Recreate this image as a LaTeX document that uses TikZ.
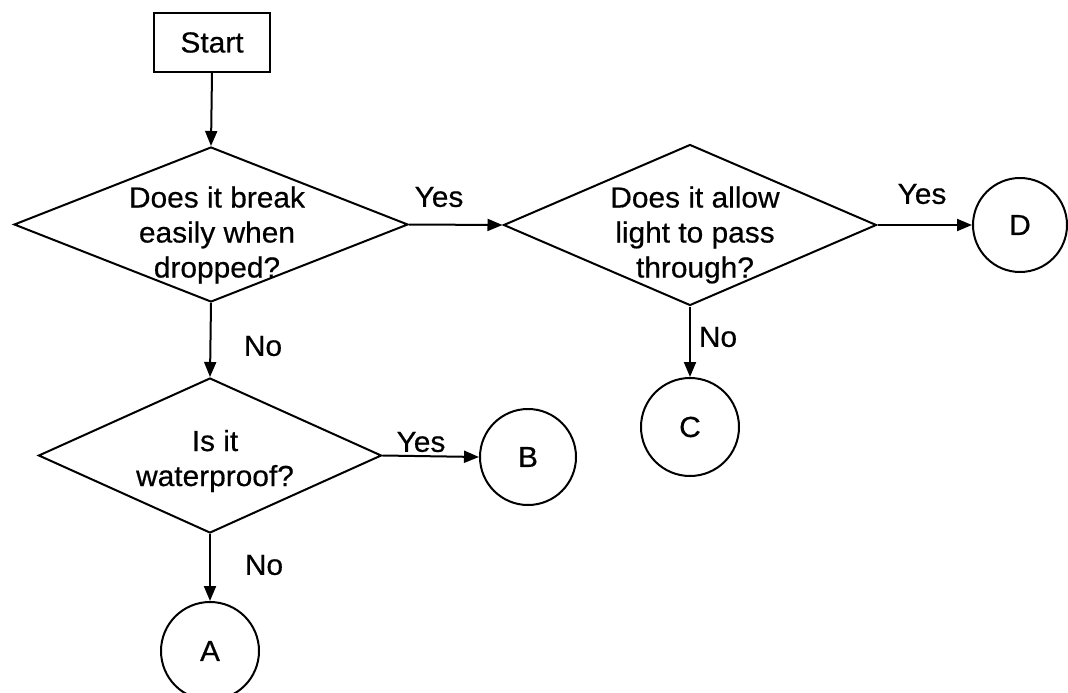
\documentclass[tikz,border=0pt]{standalone}
\usepackage{fontspec}
\setmainfont{Liberation Sans}[FakeStretch=1.03,FakeBold=0.5]
\usetikzlibrary{shapes.geometric,arrows.meta}
\begin{document}
\begin{tikzpicture}[x=1pt,y=-1pt,
  every node/.style={font=\fontsize{29}{35}\selectfont},
  stepbox/.style={draw,line width=1.8pt,minimum width=116pt,minimum height=59pt,inner sep=0pt},
  decision/.style={draw,shape=diamond,line width=2pt,inner sep=0pt},
  endpt/.style={draw,shape=circle,line width=2pt,inner sep=0pt},
  qtext/.style={align=center,inner sep=0pt},
  lbl/.style={inner sep=0pt},
  conn/.style={line width=2pt,-{Triangle[length=15pt,width=12pt]}}]
\clip (0,0) rectangle (1068,693);
\fill[white] (0,0) rectangle (1068,693);
% nodes
\node[stepbox] (start) at (212,42.5) {Start};
\node[decision,minimum width=394pt,minimum height=155pt] (d1) at (211,224.5) {};
\node[qtext] (t1) at (217,235) {Does it break\\easily when\\dropped?};
\node[decision,minimum width=373pt,minimum height=161pt] (d2) at (690,225) {};
\node[qtext] (t2) at (695,235) {Does it allow\\light to pass\\through?};
\node[decision,minimum width=343pt,minimum height=155pt] (d3) at (210,455.5) {};
\node[qtext] (t3) at (215,461) {Is it\\waterproof?};
\node[endpt,minimum size=94pt] (D) at (1020,225) {D};
\node[endpt,minimum size=98pt] (C) at (690,427) {C};
\node[endpt,minimum size=96pt] (B) at (528,457) {B};
\node[endpt,minimum size=98pt] (A) at (210,651) {A};
% connectors
\draw[conn] (start.south) -- (d1.north);
\draw[conn] (d1.east) -- (d2.west);
\draw[conn] (d2.east) -- (D.west);
\draw[conn] (d2.south) -- (C.north);
\draw[conn] (d1.south) -- (d3.north);
\draw[conn] (d3.east) -- (B.west);
\draw[conn] (d3.south) -- (A.north);
% labels
\node[lbl] (y1) at (439,197) {Yes};
\node[lbl] (y2) at (922,194) {Yes};
\node[lbl] (y3) at (421,442) {Yes};
\node[lbl] (n1) at (263,346) {No};
\node[lbl] (n2) at (718,337) {No};
\node[lbl] (n3) at (264,565) {No};
\end{tikzpicture}
\end{document}
